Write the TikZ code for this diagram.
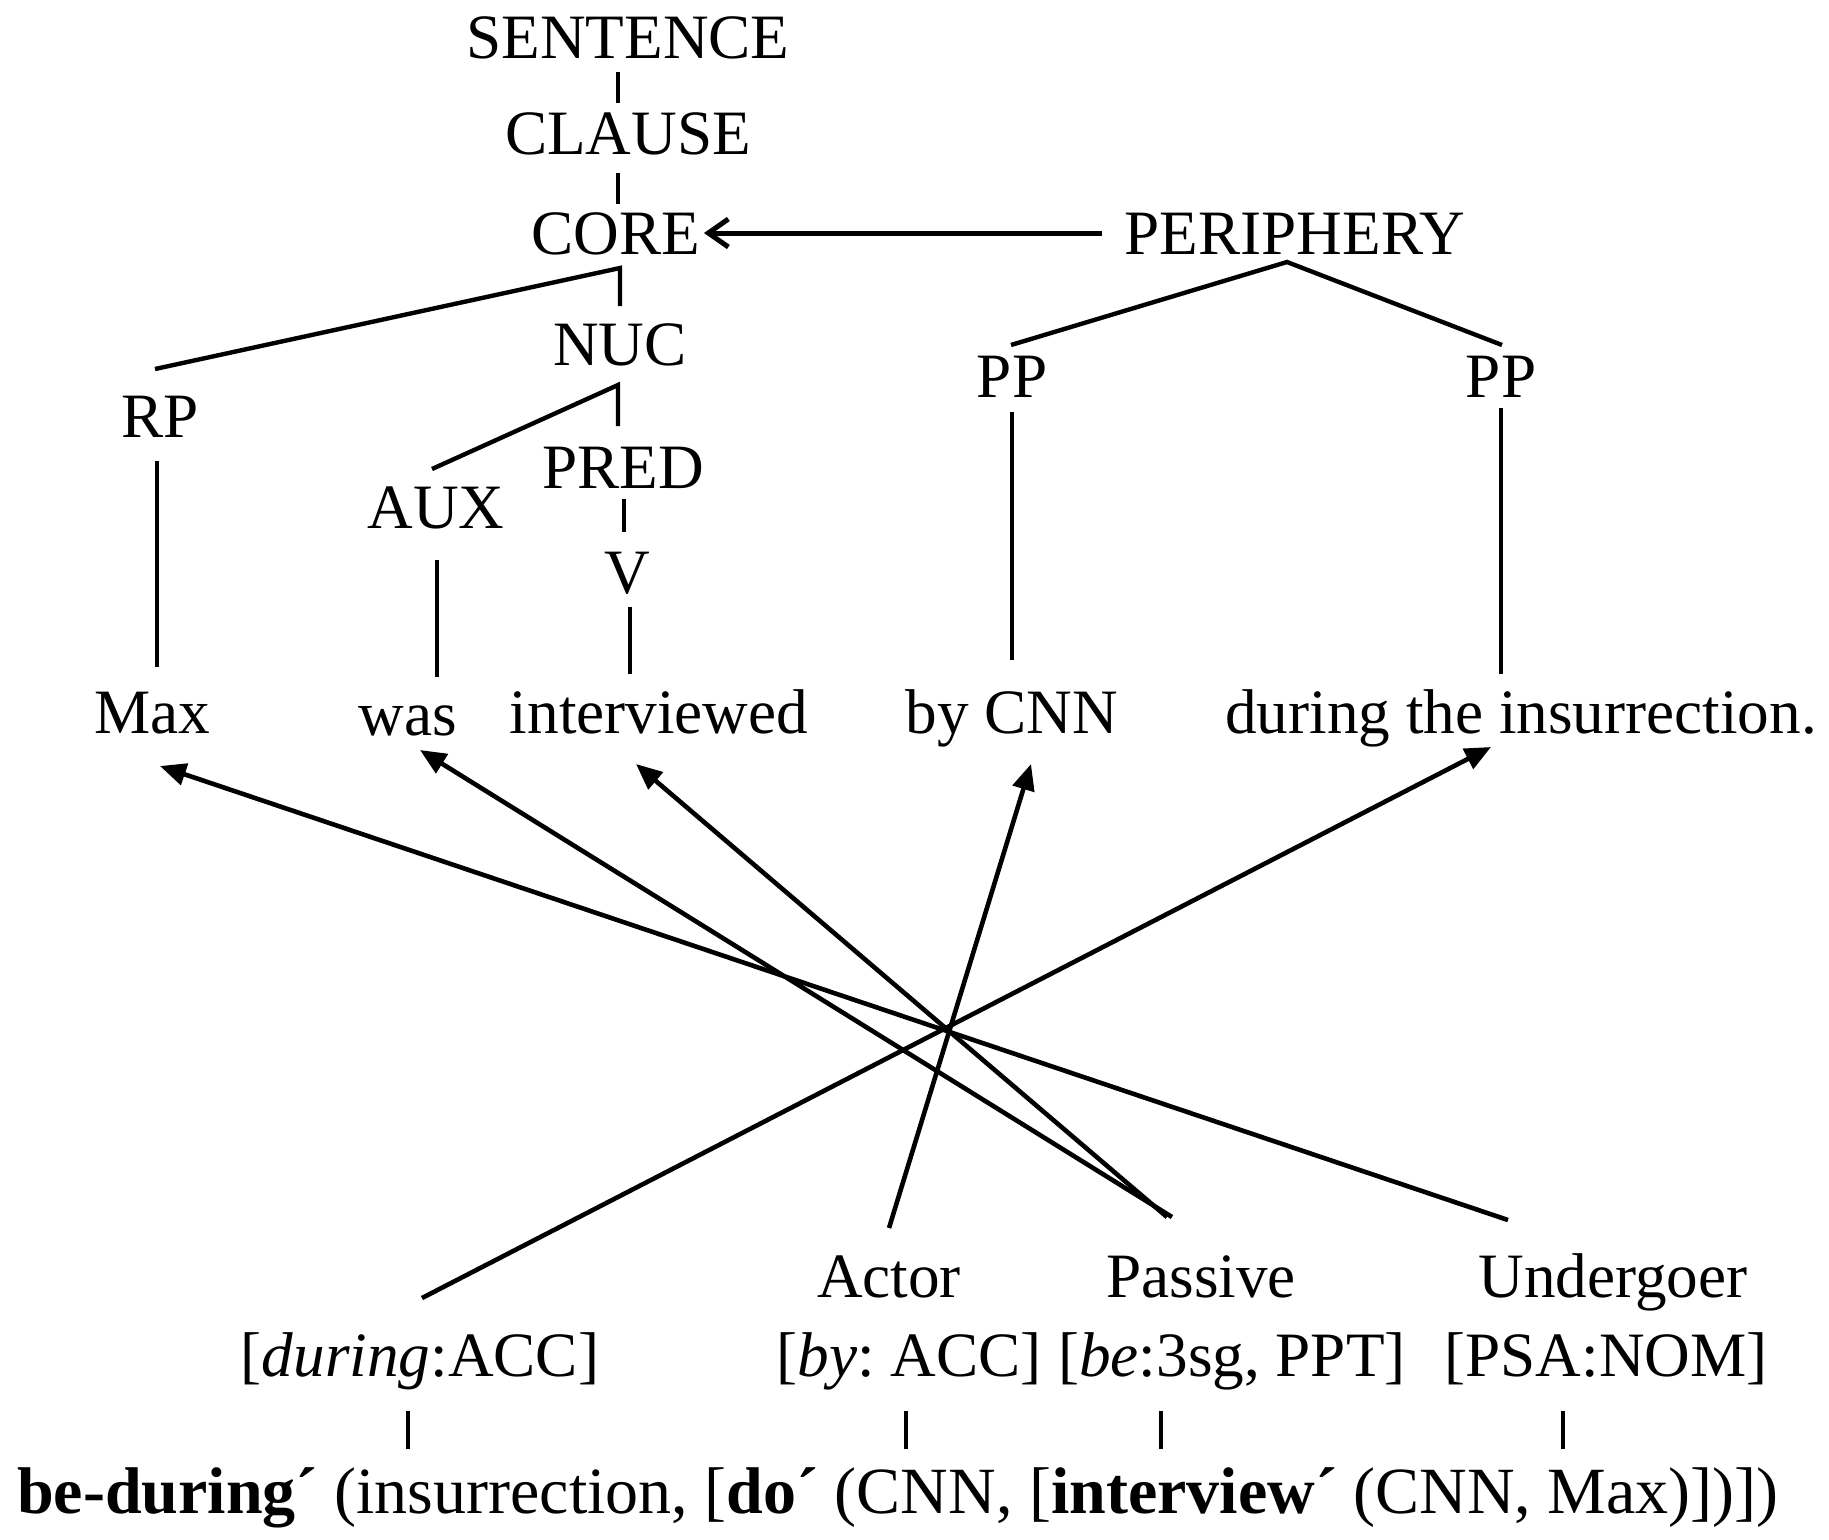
\documentclass[tikz,border=0pt]{standalone}
\usepackage{fontspec}
\setmainfont{Liberation Serif}
\usetikzlibrary{arrows.meta}
\frenchspacing
\begin{document}
\begin{tikzpicture}[x=0.5pt,y=-0.5pt,
  lbl/.style={anchor=base,inner sep=0pt,font=\fontsize{31.6}{38}\selectfont},
  branch/.style={line width=2.2pt},
  link/.style={line width=2.3pt,-{Triangle[length=13pt,width=11pt]}},
  attach/.style={line width=2.5pt,-{Straight Barb[length=10pt,width=14pt,line width=2.5pt]}}]
\useasboundingbox (0,0) rectangle (1829,1539);

% clause layer
\node[lbl] (sent) at (628,58) {SENTENCE};
\node[lbl] (clause) at (628,154) {CLAUSE};
\node[lbl] (core) at (616,254) {CORE};
\node[lbl] (periph) at (1295,254) {PERIPHERY};
\node[lbl] (nuc) at (620,365) {NUC};
\node[lbl] (rp) at (160,437) {RP};
\node[lbl] (pp1) at (1012,397) {PP};
\node[lbl] (pp2) at (1501,397) {PP};
\node[lbl] (aux) at (436,528) {AUX};
\node[lbl] (pred) at (623,488) {PRED};
\node[lbl] (v) at (627,593) {V};

% sentence
\node[lbl] (max) at (152,733) {Max};
\node[lbl] (was) at (408,735) {was};
\node[lbl] (interv) at (659,733) {interviewed};
\node[lbl] (bycnn) at (1012,733) {by CNN};
\node[lbl] (during) at (1521,733) {during the insurrection.};

% semantic layer
\node[lbl] (actor) at (889,1297) {Actor};
\node[lbl] (passive) at (1201,1297) {Passive};
\node[lbl] (under) at (1613,1297) {Undergoer};
\node[lbl] (dacc) at (420,1376) {[\textit{during}:ACC]};
\node[lbl] (byacc) at (909,1376) {[\textit{by}: ACC]};
\node[lbl] (be) at (1232,1376) {[\textit{be}:3sg, PPT]};
\node[lbl] (psa) at (1606,1376) {[PSA:NOM]};
\node[lbl,font=\fontsize{33}{40}\selectfont] (lsr) at (898,1513) {\textbf{be-during´} (insurrection, [\textbf{do´} (CNN, [\textbf{interview´} (CNN, Max)])])};

% branch end points
\coordinate (s1) at (618,72);   \coordinate (s2) at (618,103);
\coordinate (c1) at (618,173);  \coordinate (c2) at (618,204);
\coordinate (co) at (620,268);  \coordinate (co2) at (620,306);
\coordinate (rpt) at (155,369);
\coordinate (pe) at (1287,262);
\coordinate (pp1t) at (1011,345); \coordinate (pp2t) at (1502,345);
\coordinate (nu) at (618,385);  \coordinate (auxt) at (432,469);
\coordinate (predt) at (618,426);
\coordinate (pv1) at (624,499); \coordinate (pv2) at (624,532);
\coordinate (vw1) at (630,607); \coordinate (vw2) at (630,674);
\coordinate (aw1) at (437,560); \coordinate (aw2) at (437,677);
\coordinate (rm1) at (157,461); \coordinate (rm2) at (157,667);
\coordinate (pb1) at (1012,412); \coordinate (pb2) at (1012,660);
\coordinate (pd1) at (1501,408); \coordinate (pd2) at (1501,674);
\coordinate (pstart) at (1102,233); \coordinate (ctip) at (704,233);

% tree
\draw[branch] (s1) -- (s2);
\draw[branch] (c1) -- (c2);
\draw[branch] (rpt) -- (co) -- (co2);
\draw[branch] (pp1t) -- (pe) -- (pp2t);
\draw[branch] (auxt) -- (nu) -- (predt);
\draw[branch] (pv1) -- (pv2);
\draw[branch] (vw1) -- (vw2);
\draw[branch] (aw1) -- (aw2);
\draw[branch] (rm1) -- (rm2);
\draw[branch] (pb1) -- (pb2);
\draw[branch] (pd1) -- (pd2);
\draw[attach] (pstart) -- (ctip);

% linking arrows
\coordinate (uS) at (1508,1220); \coordinate (uT) at (160,766);
\coordinate (pS1) at (1172,1217); \coordinate (wT) at (420,750);
\coordinate (pS2) at (1167,1217); \coordinate (iT) at (636,764);
\coordinate (aS) at (889,1228); \coordinate (bT) at (1031,764);
\coordinate (dS) at (422,1298); \coordinate (dT) at (1491,747);
\draw[link] (uS) -- (uT);
\draw[link] (pS1) -- (wT);
\draw[link] (pS2) -- (iT);
\draw[link] (aS) -- (bT);
\draw[link] (dS) -- (dT);

% ticks to the logical structure
\coordinate (t1a) at (408,1411); \coordinate (t1b) at (408,1449);
\coordinate (t2a) at (906,1411); \coordinate (t2b) at (906,1449);
\coordinate (t3a) at (1161,1411); \coordinate (t3b) at (1161,1449);
\coordinate (t4a) at (1563,1411); \coordinate (t4b) at (1563,1449);
\draw[branch] (t1a) -- (t1b);
\draw[branch] (t2a) -- (t2b);
\draw[branch] (t3a) -- (t3b);
\draw[branch] (t4a) -- (t4b);
\end{tikzpicture}
\end{document}
